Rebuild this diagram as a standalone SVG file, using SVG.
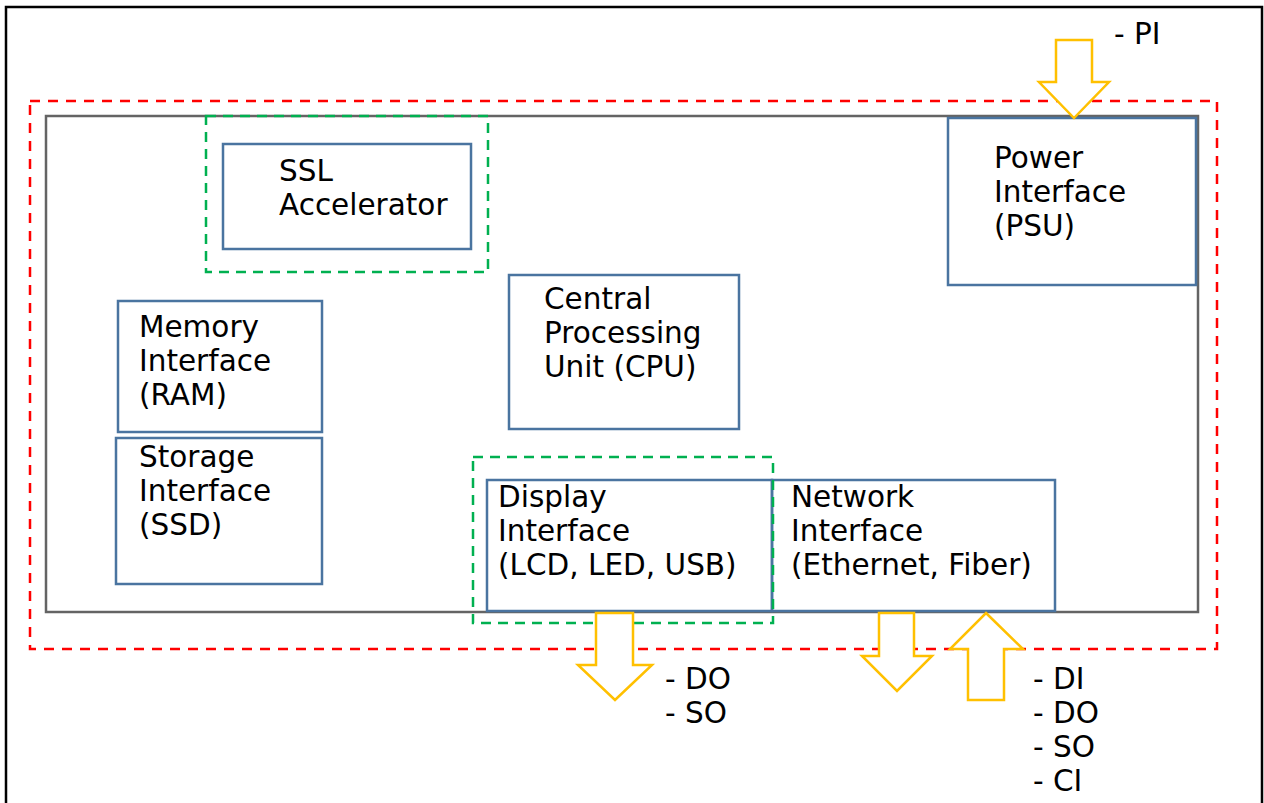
<svg xmlns="http://www.w3.org/2000/svg" width="1264" height="803" viewBox="0 0 1264 803">
<style>
.frame{fill:none;stroke:#000;stroke-width:2.5}
.red{fill:none;stroke:#FF0000;stroke-width:2.5;stroke-dasharray:10 8}
.gray{fill:none;stroke:#646464;stroke-width:2.5}
.green{fill:none;stroke:#00B050;stroke-width:2.5;stroke-dasharray:10 7}
.box{fill:none;stroke:#4A74A0;stroke-width:2.5}
.arrow{fill:#FFFFFF;stroke:#FFC000;stroke-width:2.5;stroke-linejoin:miter}
text{font-family:"DejaVu Sans","Liberation Sans",sans-serif;font-size:29.5px;fill:#000}
</style>
<rect class="frame" x="6" y="7" width="1256" height="806"/>
<g id="boundary">
<rect class="red" x="30" y="101" width="1187" height="548"/>
<rect class="gray" x="46" y="116" width="1152" height="496"/>
</g>
<g id="ssl">
<rect class="box" x="223" y="144" width="248" height="105"/>
<text x="279" y="181">SSL</text>
<text x="279" y="215">Accelerator</text>
</g>
<rect id="ssl-group" class="green" x="206" y="116" width="282" height="156"/>
<g id="psu">
<rect class="box" x="948" y="118" width="248" height="167"/>
<text x="994" y="168">Power</text>
<text x="994" y="202">Interface</text>
<text x="994" y="236">(PSU)</text>
</g>
<g id="cpu">
<rect class="box" x="509" y="275" width="230" height="154"/>
<text x="544" y="309">Central</text>
<text x="544" y="343">Processing</text>
<text x="544" y="377">Unit (CPU)</text>
</g>
<g id="ram">
<rect class="box" x="118" y="301" width="204" height="131"/>
<text x="139" y="337">Memory</text>
<text x="139" y="371">Interface</text>
<text x="139" y="405">(RAM)</text>
</g>
<g id="ssd">
<rect class="box" x="116" y="438" width="206" height="146"/>
<text x="139" y="467">Storage</text>
<text x="139" y="501">Interface</text>
<text x="139" y="535">(SSD)</text>
</g>
<g id="display">
<rect class="box" x="487" y="480" width="285" height="131"/>
<text x="498" y="507">Display</text>
<text x="498" y="541">Interface</text>
<text x="498" y="575">(LCD, LED, USB)</text>
</g>
<g id="network">
<rect class="box" x="772" y="480" width="283" height="131"/>
<text x="791" y="507">Network</text>
<text x="791" y="541">Interface</text>
<text x="791" y="575">(Ethernet, Fiber)</text>
</g>
<rect id="display-group" class="green" x="473" y="457" width="300" height="166"/>
<g id="connectors">
<polygon class="arrow" points="1056,40 1092,40 1092,82 1109,82 1074,118 1039,82 1056,82"/>
<polygon class="arrow" points="596,613 633,613 633,665 652,665 615,700 578,665 596,665"/>
<polygon class="arrow" points="879,613 914,613 914,656 932,656 897,691 862,656 879,656"/>
<polygon class="arrow" points="986,613 1023,649 1004,649 1004,700 968,700 968,649 950,649"/>
</g>
<g id="labels">
<text x="1114" y="44">- PI</text>
<text x="665" y="689">- DO</text>
<text x="665" y="723">- SO</text>
<text x="1033" y="689">- DI</text>
<text x="1033" y="723">- DO</text>
<text x="1033" y="757">- SO</text>
<text x="1033" y="791">- CI</text>
</g>
</svg>
